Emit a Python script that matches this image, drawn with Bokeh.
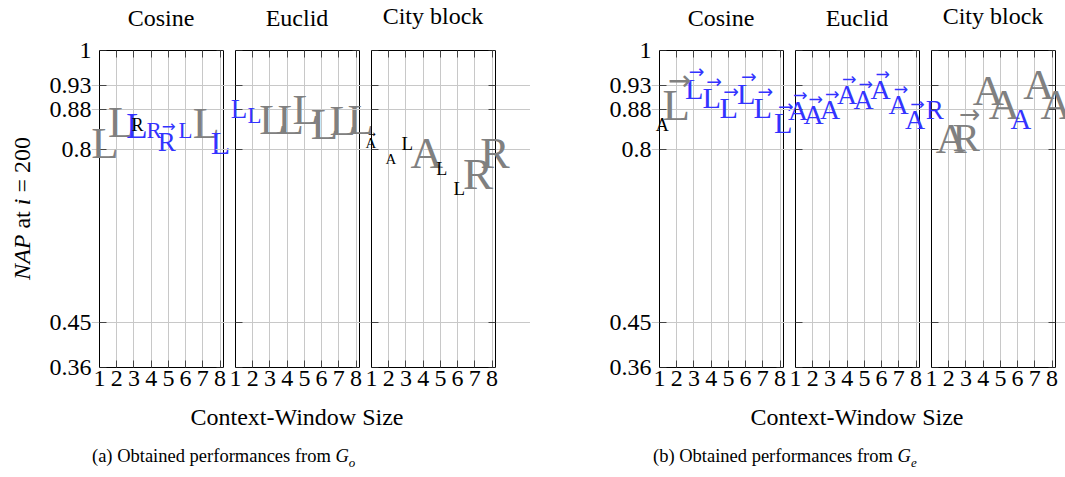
import numpy as np
from bokeh.plotting import figure
from bokeh.models import (ColumnDataSource, LabelSet, Range1d, FixedTicker,
                          LinearAxis, Div)
from bokeh.layouts import row, column
from bokeh.core.properties import value, field
from bokeh.embed import file_html
from bokeh.resources import INLINE

# ------------------------------------------------------------------ data
window_sizes = [1, 2, 3, 4, 5, 6, 7, 8]
y_ticks = [0.36, 0.45, 0.8, 0.88, 0.93, 1]
y_tick_labels = ["0.36", "0.45", "0.8", "0.88", "0.93", "1"]
metric_titles = ["Cosine", "Euclid", "City block"]
x_axis_title = "Context-Window Size"
y_axis_title = "<i>NAP</i> at <i>i</i> = 200"
caption_a = "(a) Obtained performances from <i>G</i><sub><i>o</i></sub>"
caption_b = "(b) Obtained performances from <i>G</i><sub><i>e</i></sub>"

# (a) G_o -- Cosine
go_cos_x = [1.32, 2.28, 3.18, 3.21, 4.17, 4.90, 6.00, 7.19, 8.03]
go_cos_nap = [0.812, 0.854, 0.846, 0.850, 0.839, 0.816, 0.839, 0.853, 0.812]
go_cos_mark = ["L", "L", "L", "R", "R", "R", "L", "L", "L"]
go_cos_vec = [0, 0, 0, 0, 0, 1, 0, 0, 0]
go_cos_kind = ["gray", "gray", "blue", "black", "blue", "blue", "blue", "gray", "blue"]
go_cos_weight = [1.00, 0.98, 0.78, 0.40, 0.51, 0.60, 0.51, 0.98, 0.71]

# (a) G_o -- Euclid
go_euc_x = [1.20, 2.10, 3.15, 4.20, 5.07, 6.17, 7.22, 8.27]
go_euc_nap = [0.881, 0.868, 0.861, 0.861, 0.881, 0.851, 0.859, 0.861]
go_euc_mark = ["L", "L", "L", "L", "L", "L", "L", "L"]
go_euc_vec = [0, 0, 0, 0, 0, 0, 0, 0]
go_euc_kind = ["blue", "blue", "gray", "gray", "gray", "gray", "gray", "gray"]
go_euc_weight = [0.60, 0.51, 0.96, 0.96, 0.96, 1.00, 0.96, 0.96]

# (a) G_o -- City block
go_cit_x = [0.96, 2.12, 3.08, 4.21, 5.08, 6.09, 7.18, 8.17]
go_cit_nap = [0.814, 0.780, 0.811, 0.792, 0.760, 0.720, 0.751, 0.793]
go_cit_mark = ["A", "A", "L", "A", "L", "L", "R", "R"]
go_cit_vec = [1, 0, 0, 0, 0, 0, 0, 0]
go_cit_kind = ["black", "black", "black", "gray", "black", "black", "gray", "gray"]
go_cit_weight = [0.33, 0.33, 0.42, 1.00, 0.40, 0.42, 1.00, 0.98]

# (b) G_e -- Cosine
ge_cos_x = [1.16, 1.97, 3.02, 4.03, 5.02, 6.04, 7.00, 8.19]
ge_cos_nap = [0.849, 0.889, 0.923, 0.903, 0.883, 0.913, 0.883, 0.853]
ge_cos_mark = ["A", "L", "L", "L", "L", "L", "L", "L"]
ge_cos_vec = [0, 1, 1, 1, 1, 1, 1, 1]
ge_cos_kind = ["black", "gray", "blue", "blue", "blue", "blue", "blue", "blue"]
ge_cos_weight = [0.40, 1.00, 0.67, 0.67, 0.67, 0.67, 0.67, 0.67]

# (b) G_e -- Euclid
ge_euc_x = [1.15, 2.05, 3.01, 3.99, 4.95, 5.94, 6.99, 7.95]
ge_euc_nap = [0.879, 0.871, 0.881, 0.911, 0.901, 0.921, 0.891, 0.861]
ge_euc_mark = ["A", "A", "A", "A", "A", "A", "A", "A"]
ge_euc_vec = [1, 1, 1, 1, 1, 1, 1, 1]
ge_euc_kind = ["blue"] * 8
ge_euc_weight = [0.62, 0.62, 0.62, 0.62, 0.62, 0.62, 0.62, 0.62]

# (b) G_e -- City block
ge_cit_x = [1.19, 2.15, 3.02, 4.30, 5.23, 6.19, 7.24, 8.23]
ge_cit_nap = [0.879, 0.822, 0.825, 0.919, 0.891, 0.860, 0.931, 0.891]
ge_cit_mark = ["R", "A", "R", "A", "A", "A", "A", "A"]
ge_cit_vec = [0, 0, 1, 0, 0, 0, 0, 0]
ge_cit_kind = ["blue", "gray", "gray", "gray", "gray", "blue", "gray", "gray"]
ge_cit_weight = [0.60, 0.96, 0.91, 0.96, 0.96, 0.64, 0.96, 0.96]

# ------------------------------------------------------------------ style
SERIF = "Liberation Serif"
COLORS = {"gray": "#808080", "blue": "#3333ff", "black": "#000000"}
LETTER_PX = 45
X_MIN, X_MAX = 1, 8.2
Y_MIN, Y_MAX = 0.36, 1.0
PANEL_W, FRAME_H = 124, 317
PPU = PANEL_W / (X_MAX - X_MIN)
B_TOP, B_BOTTOM = 14, 36
TITLE_H = 36
GRID = "#c8c8c8"
OV = 20          # canvas overflow (px) beside a panel; neighbours overlap transparently
GAP = 12         # white gap between two panels


def style_axis(ax, labels=False, size="24px", standoff=0):
    ax.axis_line_color = "black"
    ax.axis_line_width = 1
    ax.major_tick_in = 7
    ax.major_tick_out = 0
    ax.major_tick_line_color = "#444444"
    ax.minor_tick_line_color = None
    ax.major_label_text_font = SERIF
    ax.major_label_text_color = "black" if labels else None
    ax.major_label_text_font_size = size if labels else "0px"
    ax.major_label_standoff = standoff


def make_panel(xs, ys, marks, vecs, kinds, weights, pad_l, pad_r, label_border=0, shift=0):
    """pad_l / pad_r: canvas pixels left / right of the panel box (marks may overflow there);
    label_border: width of the side panel holding the y tick labels (first panel only);
    shift: negative left margin so that the canvas overlaps its left neighbour."""
    p = figure(width=label_border + pad_l + PANEL_W + pad_r, height=B_TOP + FRAME_H + B_BOTTOM,
               x_range=Range1d(X_MIN - pad_l / PPU, X_MAX + pad_r / PPU),
               y_range=Range1d(Y_MIN, Y_MAX),
               output_backend="svg", toolbar_location=None,
               min_border_left=label_border, min_border_right=0,
               min_border_top=B_TOP, min_border_bottom=B_BOTTOM,
               margin=(0, 0, 0, -shift))
    p.outline_line_color = None
    p.background_fill_color = None
    p.border_fill_color = None
    p.add_layout(LinearAxis(), "above")
    p.add_layout(LinearAxis(fixed_location=X_MAX), "right")
    if label_border:
        # labels live in the side panel; line + ticks are drawn at x = X_MIN
        p.add_layout(LinearAxis(fixed_location=X_MIN), "left")
    else:
        p.left[0].fixed_location = X_MIN
    for ax in p.xaxis:
        ax.ticker = FixedTicker(ticks=window_sizes)
        ax.bounds = (X_MIN, X_MAX)
    for ax in p.yaxis:
        ax.ticker = FixedTicker(ticks=y_ticks)
        ax.major_label_overrides = dict(zip(y_ticks, y_tick_labels))
    for ax in list(p.xaxis) + list(p.yaxis):
        style_axis(ax)
    style_axis(p.below[0], labels=True, standoff=3)
    if label_border:
        lab = p.left[0]
        style_axis(lab, labels=True, standoff=0)
        lab.axis_line_color = None
        lab.major_tick_line_color = None
    p.xgrid.ticker = FixedTicker(ticks=window_sizes)
    p.ygrid.ticker = FixedTicker(ticks=y_ticks)
    p.ygrid.bounds = (X_MIN, X_MAX)
    p.xgrid.grid_line_color = GRID
    p.ygrid.grid_line_color = GRID

    # letter marks
    fs = [LETTER_PX * w for w in weights]
    src = ColumnDataSource(dict(
        x=xs, y=ys, mark=marks,
        color=[COLORS[k] for k in kinds],
        fs=["%.1fpx" % f for f in fs],
        yoff=[-0.33 * f for f in fs]))
    p.add_layout(LabelSet(x="x", y="y", text="mark", source=src,
                          text_font=value(SERIF), text_font_size=field("fs"),
                          text_color=field("color"), text_align="center",
                          text_baseline="alphabetic", y_offset=field("yoff")))
    # vector arrows above some marks
    idx = [i for i, v in enumerate(vecs) if v]
    if idx:
        asrc = ColumnDataSource(dict(
            x=[xs[i] for i in idx], y=[ys[i] for i in idx],
            t=["\u2192"] * len(idx),
            color=[COLORS[kinds[i]] for i in idx],
            fs=["%.1fpx" % (0.62 * fs[i]) for i in idx],
            xoff=[0.08 * fs[i] for i in idx],
            yoff=[0.35 * fs[i] for i in idx]))
        p.add_layout(LabelSet(x="x", y="y", text="t", source=asrc,
                              text_font=value("DejaVu Sans"), text_font_size=field("fs"),
                              text_color=field("color"), text_align="center",
                              text_baseline="alphabetic", x_offset=field("xoff"),
                              y_offset=field("yoff")))
    return p


YL_W = 44
SH = 2 * OV - GAP
fa1 = make_panel(go_cos_x, go_cos_nap, go_cos_mark, go_cos_vec, go_cos_kind,
                 go_cos_weight, 8, OV, label_border=99 - YL_W - 8)
fa2 = make_panel(go_euc_x, go_euc_nap, go_euc_mark, go_euc_vec, go_euc_kind,
                 go_euc_weight, OV, OV, shift=SH)
fa3 = make_panel(go_cit_x, go_cit_nap, go_cit_mark, go_cit_vec, go_cit_kind,
                 go_cit_weight, OV, 35, shift=SH)
fb1 = make_panel(ge_cos_x, ge_cos_nap, ge_cos_mark, ge_cos_vec, ge_cos_kind,
                 ge_cos_weight, 8, OV, label_border=129 - 8)
fb2 = make_panel(ge_euc_x, ge_euc_nap, ge_euc_mark, ge_euc_vec, ge_euc_kind,
                 ge_euc_weight, OV, OV, shift=SH)
fb3 = make_panel(ge_cit_x, ge_cit_nap, ge_cit_mark, ge_cit_vec, ge_cit_kind,
                 ge_cit_weight, OV, 10, shift=SH)

FONT_CSS = "font-family:'Liberation Serif';color:black;white-space:nowrap;"


def span(center, top, txt, size, width=240):
    return ('<div style="position:absolute;left:%dpx;top:%dpx;width:%dpx;text-align:center;'
            'font-size:%spx;line-height:%spx;%s">%s</div>'
            % (center - width // 2, top, width, size, size, FONT_CSS, txt))


def titles_div(width, centers, tops=(6, 6, 4)):
    inner = "".join(span(c, t, s, 24) for c, t, s in zip(centers, tops, metric_titles))
    return Div(text='<div style="position:relative;width:%dpx;height:%dpx;">%s</div>'
               % (width, TITLE_H, inner), width=width, height=TITLE_H, margin=0)


def bottom_div(width, xl_center, cap_left, caption):
    cap = caption.replace("<sub>", '<sub style="font-size:0.7em;line-height:0;">')
    inner = span(xl_center, 2, x_axis_title, 24, 300)
    inner += ('<div style="position:absolute;left:%dpx;top:44px;font-size:18.5px;'
              'line-height:18.5px;%s">%s</div>' % (cap_left, FONT_CSS, cap))
    return Div(text='<div style="position:relative;width:%dpx;height:70px;">%s</div>'
               % (width, inner), width=width, height=70, margin=0)


fig_h = B_TOP + FRAME_H + B_BOTTOM
ylabel = Div(text=('<div style="position:relative;width:%dpx;height:%dpx;">'
                   '<div style="position:absolute;left:0;top:0;width:%dpx;height:344px;'
                   'display:flex;align-items:center;justify-content:center;">'
                   '<span style="writing-mode:vertical-rl;transform:rotate(180deg);'
                   'font-size:24px;line-height:24px;%s">%s</span></div></div>'
                   % (YL_W, fig_h, YL_W, FONT_CSS, y_axis_title)),
             width=YL_W, height=fig_h, margin=0)

wa = YL_W + fa1.width + fa2.width + fa3.width - 2 * SH
wb = fb1.width + fb2.width + fb3.width - 2 * SH
group_a = column(titles_div(wa, [161, 297, 433]),
                 row(ylabel, fa1, fa2, fa3, spacing=0),
                 bottom_div(wa, 297, 92, caption_a), spacing=0)
group_b = column(titles_div(wb, [191, 327, 463]),
                 row(fb1, fb2, fb3, spacing=0),
                 bottom_div(wb, 327, 123, caption_b), spacing=0)
layout = row(group_a, group_b, spacing=0)

open("out.html", "w").write(file_html(layout, INLINE))
